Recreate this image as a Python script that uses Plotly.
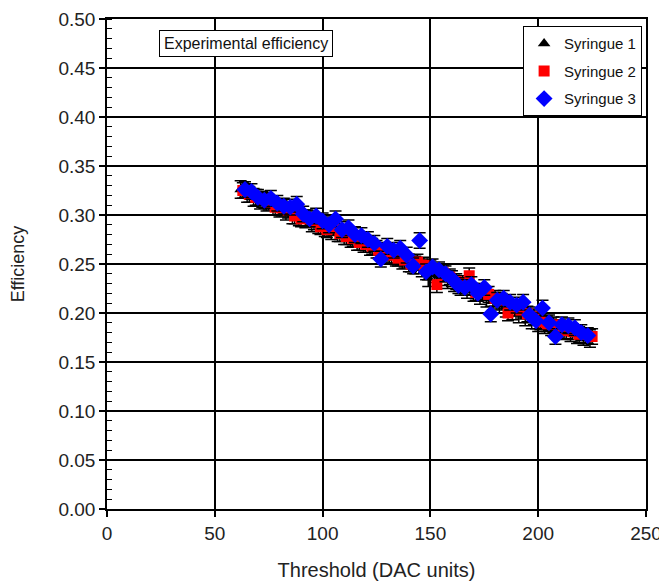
import plotly.graph_objects as go

# Syringue 1 (black triangles)
x1 = [62, 65, 68, 71, 74, 77, 80, 83, 86, 89, 92, 95, 98, 101, 104, 107, 110, 113, 116, 119,
      122, 125, 128, 131, 134, 137, 140, 143, 146, 149, 152, 155, 158, 161, 164, 167, 170, 173,
      176, 179, 182, 185, 188, 191, 194, 197, 200, 203, 206, 209, 212, 215, 218, 221, 224]
y1 = [0.326, 0.322, 0.318, 0.315, 0.313, 0.309, 0.307, 0.304, 0.300, 0.298, 0.296, 0.292,
      0.290, 0.287, 0.284, 0.282, 0.279, 0.276, 0.273, 0.271, 0.268, 0.265, 0.262, 0.260,
      0.257, 0.254, 0.251, 0.249, 0.246, 0.236, 0.240, 0.237, 0.234, 0.231, 0.227, 0.224,
      0.221, 0.218, 0.215, 0.212, 0.209, 0.205, 0.202, 0.199, 0.196, 0.193, 0.190, 0.188,
      0.186, 0.184, 0.182, 0.180, 0.178, 0.176, 0.174]

# Syringue 2 (red squares)
x2 = [63, 66, 69, 72, 75, 78, 81, 84, 87, 90, 93, 96, 99, 102, 105, 108, 111, 114, 117, 120,
      123, 126, 129, 132, 135, 138, 141, 144, 147, 150, 153, 156, 159, 162, 165, 168, 171, 174,
      177, 180, 183, 186, 189, 192, 195, 198, 201, 204, 207, 210, 213, 216, 219, 222, 225]
y2 = [0.325, 0.321, 0.318, 0.316, 0.313, 0.308, 0.307, 0.305, 0.299, 0.296, 0.297, 0.293,
      0.288, 0.285, 0.287, 0.281, 0.278, 0.276, 0.272, 0.270, 0.268, 0.264, 0.262, 0.259,
      0.256, 0.254, 0.250, 0.252, 0.249, 0.246, 0.229, 0.241, 0.237, 0.232, 0.230, 0.238,
      0.221, 0.222, 0.219, 0.215, 0.212, 0.200, 0.205, 0.203, 0.199, 0.196, 0.191, 0.189,
      0.188, 0.185, 0.182, 0.181, 0.178, 0.177, 0.176]

# Syringue 3 (blue diamonds)
x3 = [64, 67, 70, 73, 76, 79, 82, 85, 88, 91, 94, 97, 100, 103, 106, 109, 112, 115, 118, 121,
      124, 127, 130, 133, 136, 139, 142, 145, 148, 151, 154, 157, 160, 163, 166, 169, 172, 175,
      178, 181, 184, 187, 190, 193, 196, 199, 202, 205, 208, 211, 214, 217, 220, 223]
y3 = [0.326, 0.324, 0.318, 0.315, 0.317, 0.312, 0.309, 0.308, 0.311, 0.301, 0.296, 0.299,
      0.294, 0.290, 0.296, 0.285, 0.287, 0.280, 0.279, 0.275, 0.271, 0.255, 0.268, 0.264,
      0.266, 0.259, 0.248, 0.274, 0.242, 0.247, 0.244, 0.240, 0.235, 0.228, 0.226, 0.229,
      0.220, 0.226, 0.199, 0.213, 0.215, 0.211, 0.208, 0.211, 0.198, 0.192, 0.205, 0.190,
      0.176, 0.188, 0.187, 0.185, 0.180, 0.177]

err1 = 0.009
err2 = 0.008
err3 = 0.008

names = ["Syringue 1", "Syringue 2", "Syringue 3"]
x_ticks = [0, 50, 100, 150, 200, 250]

FONT = "Liberation Sans, Arial, sans-serif"

fig = go.Figure()

def add(x, y, e, name, color, symbol, size, grp):
    fig.add_trace(go.Scatter(
        x=x, y=y, mode="markers", name=name, legendgroup=grp,
        marker=dict(color=color, symbol=symbol, size=size, line=dict(width=0)),
        error_y=dict(type="constant", value=e, color="black", thickness=1.5, width=6),
    ))

add(x1, y1, err1, names[0], "black", "triangle-up", 11, "g1")
add(x2, y2, err2, names[1], "#ff0000", "square", 11, "g2")
add(x3, y3, err3, names[2], "#0000ff", "diamond", 13, "g3")

axis_common = dict(
    showgrid=True, gridcolor="black", gridwidth=1.5,
    showline=True, linecolor="black", linewidth=1.5, mirror=True,
    ticks="outside", ticklen=6, tickcolor="black", tickwidth=1.5,
    zeroline=False,
    tickfont=dict(family=FONT, size=19, color="#222"),
)

fig.update_layout(
    width=659, height=575,
    paper_bgcolor="white", plot_bgcolor="white",
    margin=dict(l=99, r=21, t=11, b=74, autoexpand=False),
    font=dict(family=FONT, color="#222"),
    xaxis=dict(range=[0, 250], tickvals=x_ticks,
               title=dict(text="Threshold (DAC units)", font=dict(family=FONT, size=20), standoff=20),
               **axis_common),
    yaxis=dict(range=[0, 0.5], dtick=0.05, tickformat=".2f",
               minor=dict(dtick=0.01, ticks="inside", ticklen=5, tickcolor="black", tickwidth=1.2, showgrid=False),
               title=dict(text="Efficiency", font=dict(family=FONT, size=18), standoff=29),
               **axis_common),
    legend=dict(x=0.772, y=0.985, xanchor="left", yanchor="top",
                bgcolor="white", bordercolor="black", borderwidth=1,
                font=dict(family=FONT, size=15, color="#111"),
                tracegroupgap=5, itemwidth=30),
    showlegend=True,
    annotations=[dict(
        x=64.5, y=0.4755, xref="x", yref="y", text="Experimental efficiency",
        showarrow=False, font=dict(family=FONT, size=16, color="#111"),
        bgcolor="white", bordercolor="black", borderwidth=1, borderpad=4,
    )],
)

fig.write_html("out.html")
